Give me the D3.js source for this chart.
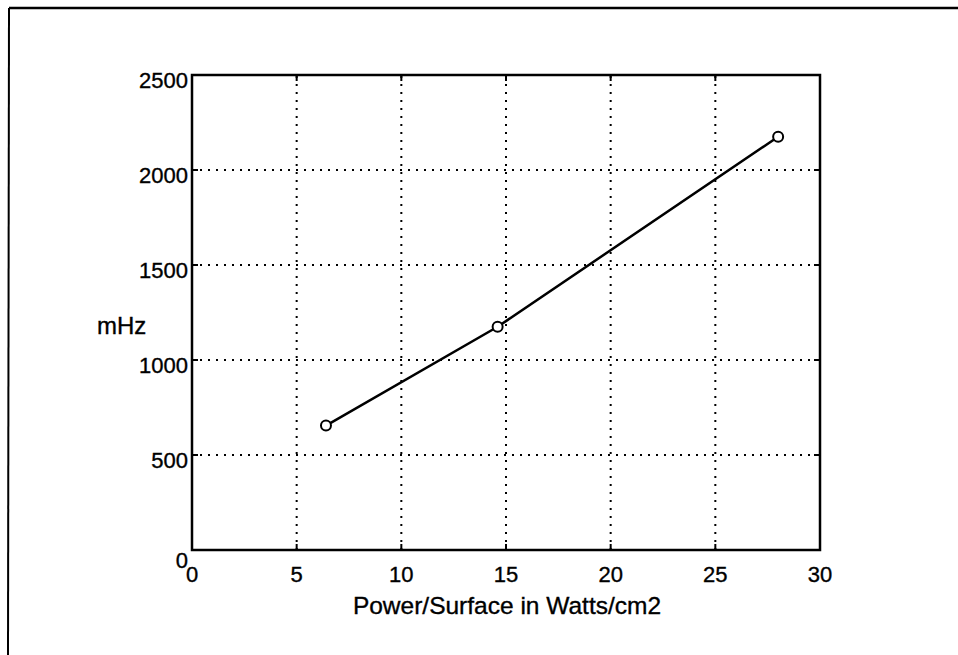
<!DOCTYPE html>
<html>
<head>
<meta charset="utf-8">
<script src="https://cdn.jsdelivr.net/npm/d3@7"></script>
<style>
  html, body { margin: 0; padding: 0; background: #fff; }
  svg { display: block; }
  text { stroke: #000; stroke-width: 0.35px; }
</style>
</head>
<body>
<svg id="chart"></svg>
<script>
// power density (W/cm2) vs frequency (mHz)
const powerVals = [6.4, 14.6, 28.0];
const freqVals = [655, 1175, 2175];
const xTicks = [0, 5, 10, 15, 20, 25, 30];
const yTicks = [0, 500, 1000, 1500, 2000, 2500];

const W = 958, H = 655;
const FONT = 'Liberation Sans, Arial, sans-serif';

const svg = d3.select('#chart').attr('width', W).attr('height', H);

// outer frame (only top and left edges show in the scan)
svg.append('line').attr('x1', 9).attr('y1', 8).attr('x2', W).attr('y2', 8)
  .attr('stroke', '#000').attr('stroke-width', 2.5);
svg.append('line').attr('x1', 9).attr('y1', 8).attr('x2', 8).attr('y2', H)
  .attr('stroke', '#000').attr('stroke-width', 2);

const x = d3.scaleLinear().domain([0, 30]).range([192, 820]);
const y = d3.scaleLinear().domain([0, 2500]).range([550, 75]);

// grid
const grid = svg.append('g');
xTicks.slice(1, -1).forEach(t => {
  grid.append('line').attr('x1', x(t)).attr('x2', x(t)).attr('y1', y(0)).attr('y2', y(2500))
    .attr('stroke', '#000').attr('stroke-width', 2).attr('stroke-dasharray', '2,6');
});
yTicks.slice(1, -1).forEach(t => {
  grid.append('line').attr('x1', x(0)).attr('x2', x(30)).attr('y1', y(t)).attr('y2', y(t))
    .attr('stroke', '#000').attr('stroke-width', 2).attr('stroke-dasharray', '2,6');
});

// axes box with inward ticks on all sides
const ax = svg.append('g').attr('stroke', '#000').attr('fill', 'none');
ax.append('rect').attr('x', x(0)).attr('y', y(2500)).attr('width', x(30) - x(0)).attr('height', y(0) - y(2500))
  .attr('stroke-width', 2.5);
xTicks.forEach(t => {
  ax.append('line').attr('x1', x(t)).attr('x2', x(t)).attr('y1', y(0)).attr('y2', y(0) - 6).attr('stroke-width', 2);
  ax.append('line').attr('x1', x(t)).attr('x2', x(t)).attr('y1', y(2500)).attr('y2', y(2500) + 6).attr('stroke-width', 2);
});
yTicks.forEach(t => {
  ax.append('line').attr('x1', x(0)).attr('x2', x(0) + 6).attr('y1', y(t)).attr('y2', y(t)).attr('stroke-width', 2);
  ax.append('line').attr('x1', x(30)).attr('x2', x(30) - 6).attr('y1', y(t)).attr('y2', y(t)).attr('stroke-width', 2);
});

// tick labels
svg.append('g').selectAll('text').data(xTicks).enter().append('text')
  .attr('x', d => x(d)).attr('y', 582)
  .attr('text-anchor', 'middle')
  .attr('font-family', FONT).attr('font-size', '22px').attr('fill', '#000')
  .text(d => d);
svg.append('g').selectAll('text').data(yTicks).enter().append('text')
  .attr('x', 188).attr('y', d => y(d) + (d === 0 ? 18 : 13))
  .attr('text-anchor', 'end')
  .attr('font-family', FONT).attr('font-size', '22px').attr('fill', '#000')
  .text(d => d);

// axis labels
svg.append('text').attr('x', 507).attr('y', 614).attr('text-anchor', 'middle')
  .attr('font-family', FONT).attr('font-size', '24.5px').attr('fill', '#000')
  .text('Power/Surface in Watts/cm2');
svg.append('text').attr('x', 97).attr('y', 334)
  .attr('font-family', FONT).attr('font-size', '24px').attr('fill', '#000')
  .text('mHz');

// data line + markers
const pts = powerVals.map((p, i) => [p, freqVals[i]]);
svg.append('path').datum(pts)
  .attr('d', d3.line().x(d => x(d[0])).y(d => y(d[1])))
  .attr('fill', 'none').attr('stroke', '#000').attr('stroke-width', 2.5);
svg.append('g').selectAll('circle').data(pts).enter().append('circle')
  .attr('cx', d => x(d[0])).attr('cy', d => y(d[1])).attr('r', 5)
  .attr('fill', '#fff').attr('stroke', '#000').attr('stroke-width', 2);
</script>
</body>
</html>
